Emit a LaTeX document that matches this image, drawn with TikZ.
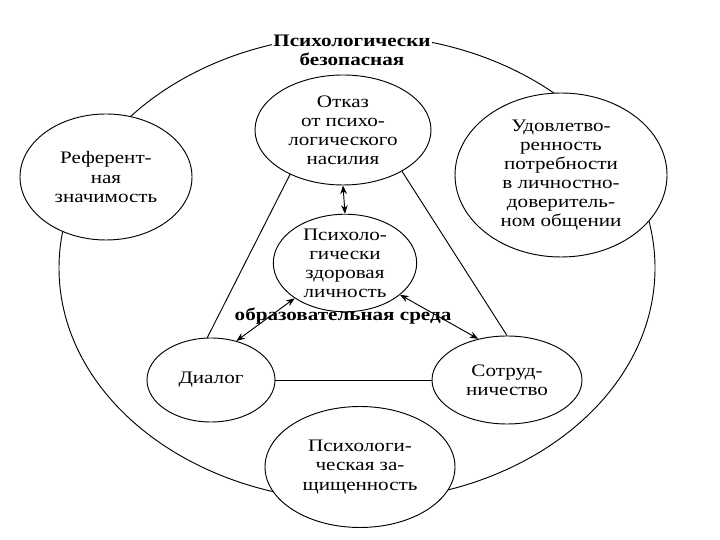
\documentclass[tikz,border=0pt]{standalone}
\usepackage{fontspec}
\setmainfont[FakeStretch=1.2]{Liberation Serif}
\usetikzlibrary{arrows.meta,positioning,shapes.geometric}
\tikzset{
  bubble/.style={draw,ellipse,fill=white,inner sep=0pt,align=center,
    font=\fontsize{15}{16.3}\selectfont},
  caption/.style={font=\bfseries\fontsize{15}{16}\selectfont,align=center,inner sep=1pt},
  link/.style={line width=0.8pt},
  duplex/.style={line width=0.8pt,{Stealth[length=2.6mm,width=2mm]}-{Stealth[length=2.6mm,width=2mm]}}
}
\begin{document}
\begin{tikzpicture}[line width=0.8pt]
  \useasboundingbox (0,0) rectangle (21.6,16.2);
  % outer field
  \draw (10.71,8.16) ellipse [x radius=8.94, y radius=6.99];
  \node[caption,fill=white] (safe) at (10.56,14.7) {Психологически\\безопасная};
  % circles
  \node[bubble,minimum width=5.28cm,minimum height=3.3cm] (refusal) at (10.29,12.30)
    {Отказ\\от психо-\\логического\\насилия};
  \node[bubble,minimum width=5.16cm,minimum height=3.78cm] (referent) at (3.18,10.89)
    {Референт-\\ная\\значимость};
  \node[bubble,minimum width=6.36cm,minimum height=4.92cm] (needs) at (16.83,10.95)
    {Удовлетво-\\ренность\\потребности\\в личностно-\\доверитель-\\ном общении};
  \node[bubble,minimum width=4.3cm,minimum height=2.8cm] (health) at (10.35,8.31)
    {Психоло-\\гически\\здоровая\\личность};
  \node[bubble,minimum width=3.84cm,minimum height=2.52cm] (dialog) at (6.33,4.8)
    {Диалог};
  \node[bubble,minimum width=4.5cm,minimum height=2.64cm] (coop) at (15.21,4.8)
    {Сотруд-\\ничество};
  \node[bubble,minimum width=5.7cm,minimum height=3.63cm] (protect) at (10.8,2.19)
    {Психологи-\\ческая за-\\щищенность};
  \node[caption] (env) at (10.29,6.72) {образовательная среда};
  % triangle
  \draw[link] (refusal.220) -- (dialog.95);
  \draw[link] (refusal.325) -- (coop.90);
  \draw[link] (dialog.east) -- (coop.west);
  % arrows
  \draw[duplex] (refusal.south) -- (health.north);
  \draw[duplex] (health.215) -- (dialog.57);
  \draw[duplex] (health.330) -- (coop.125);
\end{tikzpicture}
\end{document}
